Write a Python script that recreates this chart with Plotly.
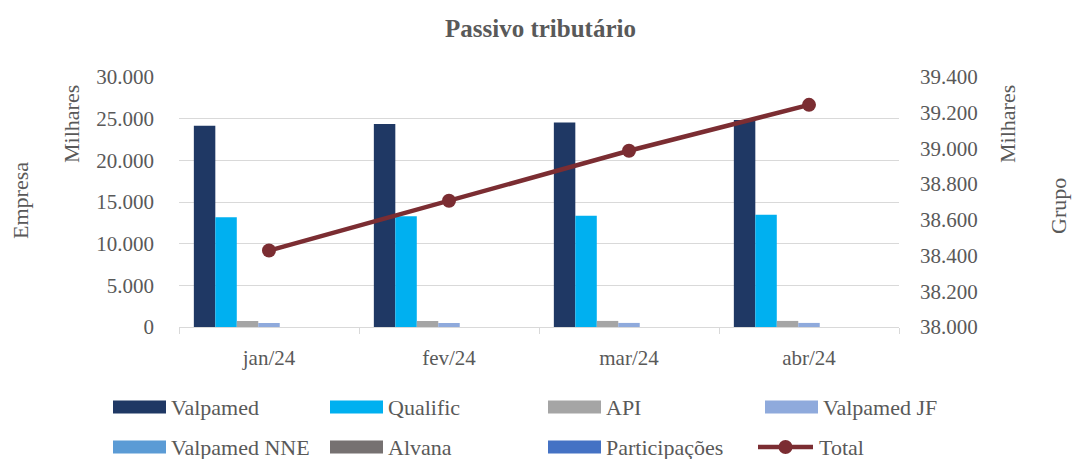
import plotly.graph_objects as go

categories = ["jan/24", "fev/24", "mar/24", "abr/24"]
valpamed = [24150, 24360, 24550, 24840]
qualific = [13170, 13290, 13340, 13460]
api = [720, 720, 730, 730]
valpamed_jf = [480, 480, 490, 490]
valpamed_nne = [0, 0, 0, 0]
alvana = [0, 0, 0, 0]
participacoes = [0, 0, 0, 0]
total = [38428, 38707, 38987, 39244]

bar_series = [
    ("Valpamed", valpamed, "#1F3864"),
    ("Qualific", qualific, "#00B0F0"),
    ("API", api, "#A5A5A5"),
    ("Valpamed JF", valpamed_jf, "#8FAADC"),
    ("Valpamed NNE", valpamed_nne, "#5B9BD5"),
    ("Alvana", alvana, "#767171"),
    ("Participações", participacoes, "#4472C4"),
]
line_color = "#7B2D32"
text_color = "#595959"
grid_color = "#D9D9D9"
font_family = "Liberation Serif"

W, H = 1073, 459
L, R, T, B = 179, 899, 77, 327


def px(x):
    return (x - L) / (R - L)


def py(y):
    return (B - y) / (B - T)


fig = go.Figure()
for name, vals, col in bar_series:
    fig.add_trace(go.Bar(x=categories, y=vals, name=name, marker_color=col,
                         marker_line_width=0, yaxis="y", showlegend=False))
fig.add_trace(go.Scatter(x=categories, y=total, name="Total", yaxis="y2",
                         mode="lines+markers",
                         line=dict(color=line_color, width=4.5),
                         marker=dict(color=line_color, size=14),
                         showlegend=False))

annotations = [
    dict(text="<b>Passivo tributário</b>", x=px(540), y=py(28), font_size=25),
    dict(text="Milhares", x=px(72), y=py(124), textangle=-90, font_size=22),
    dict(text="Empresa", x=px(20), y=py(201), textangle=-90, font_size=22),
    dict(text="Milhares", x=px(1008), y=py(124), textangle=-90, font_size=22),
    dict(text="Grupo", x=px(1058), y=py(206), textangle=-90, font_size=22),
]
for a in annotations:
    a.update(xref="paper", yref="paper", showarrow=False, xanchor="center", yanchor="middle",
             font=dict(family=font_family, color=text_color, size=a.pop("font_size")))

shapes = []
legend_items = [(n, c) for n, _, c in bar_series] + [("Total", line_color)]
col_x = [113, 330, 548, 765]
row_y = [407, 447]
for i, (name, col) in enumerate(legend_items):
    cx = col_x[i % 4]
    cy = row_y[i // 4]
    if name == "Total":
        shapes.append(dict(type="line", xref="paper", yref="paper",
                           x0=px(cx - 7), x1=px(cx + 48), y0=py(cy), y1=py(cy),
                           line=dict(color=col, width=4.5)))
        shapes.append(dict(type="circle", xref="paper", yref="paper",
                           x0=px(cx + 13.5), x1=px(cx + 27.5), y0=py(cy - 7), y1=py(cy + 7),
                           fillcolor=col, line=dict(color=col, width=0)))
        tx = cx + 52
    else:
        shapes.append(dict(type="rect", xref="paper", yref="paper",
                           x0=px(cx), x1=px(cx + 53), y0=py(cy - 6.5), y1=py(cy + 6.5),
                           fillcolor=col, line=dict(width=0)))
        tx = cx + 56
    annotations.append(dict(text=name, xref="paper", yref="paper", x=px(tx), y=py(cy),
                            xanchor="left", yanchor="middle", showarrow=False,
                            font=dict(family=font_family, size=22, color=text_color)))

fig.update_layout(
    width=W, height=H,
    margin=dict(l=L, r=W - R, t=T, b=H - B, pad=0),
    paper_bgcolor="white", plot_bgcolor="white",
    font=dict(family=font_family, color=text_color, size=21),
    separators=",.",
    barmode="group", bargap=0.165, bargroupgap=0,
    showlegend=False,
    xaxis=dict(showline=True, linecolor=grid_color, linewidth=1,
               ticks="outside", tickson="boundaries", ticklen=6, tickcolor=grid_color,
               ticklabelstandoff=12, tickfont=dict(family=font_family, size=21, color=text_color),
               showgrid=False),
    yaxis=dict(range=[0, 30000], dtick=5000, tickformat=",d",
               showgrid=True, gridcolor=grid_color, gridwidth=1,
               zeroline=False, showline=False,
               ticklabelstandoff=24, tickfont=dict(family=font_family, size=21, color=text_color)),
    yaxis2=dict(range=[38000, 39400], dtick=200, tickformat=",d",
                overlaying="y", side="right", showgrid=False, zeroline=False,
                showline=False, ticklabelstandoff=20,
                tickfont=dict(family=font_family, size=21, color=text_color)),
    annotations=annotations,
    shapes=shapes,
)

fig.write_html("out.html", config={"displayModeBar": False},
               post_script="document.body.style.margin='0';document.body.style.overflow='hidden';")
